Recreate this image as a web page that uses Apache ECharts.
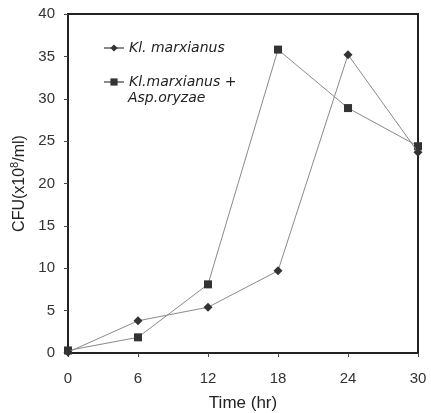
<!DOCTYPE html>
<html>
<head>
<meta charset="utf-8">
<script src="https://cdn.jsdelivr.net/npm/echarts@6/dist/echarts.min.js"></script>
<style>
html,body{margin:0;padding:0;background:#fff;}
#c{width:431px;height:413px;}
</style>
</head>
<body>
<div id="c"></div>
<script>
const timeHr = [0, 6, 12, 18, 24, 30];
const klMarxianus = [0.1, 3.8, 5.4, 9.7, 35.2, 23.7];
const klMarxianusAsp = [0.3, 1.85, 8.1, 35.8, 28.9, 24.4];
const seriesNames = ['Kl. marxianus', 'Kl.marxianus +\nAsp.oryzae'];
const yTicks = [0, 5, 10, 15, 20, 25, 30, 35, 40];
const xTicks = [0, 6, 12, 18, 24, 30];

const chart = echarts.init(document.getElementById('c'), null, {renderer: 'canvas'});
const font = 'Liberation Sans, Arial, sans-serif';
const legFont = 'DejaVu Sans, sans-serif';
function pairs(ys){ return timeHr.map((t,i)=>[t, ys[i]]); }

chart.setOption({
  animation: false,
  backgroundColor: '#fff',
  textStyle: {fontFamily: font},
  grid: {left: 68, right: 13, top: 14, bottom: 60, show: true, borderColor: '#222', borderWidth: 2, backgroundColor: 'transparent', containLabel: false, outerBoundsMode: 'none'},
  legend: {
    orient: 'vertical', left: 98, top: 36, itemGap: 20,
    itemWidth: 20, itemHeight: 9, selectedMode: false,
    data: seriesNames,
    formatter: n => n.split('\n')[0],
    textStyle: {fontFamily: legFont, fontStyle: 'italic', fontSize: 14, color: '#222', padding: [0,0,0,0]}
  },
  graphic: [{
    type: 'text', left: 128, top: 91,
    style: {text: seriesNames[1].split('\n')[1], fontFamily: legFont, fontStyle: 'italic', fontSize: 14, fill: '#222'}
  }],
  xAxis: {
    type: 'value', min: xTicks[0], max: xTicks[xTicks.length-1], interval: 6,
    name: 'Time (hr)', nameLocation: 'middle', nameGap: 42,
    nameTextStyle: {fontSize: 17, color: '#222', fontFamily: font},
    axisLine: {show: true, lineStyle: {color: '#222', width: 2}},
    axisTick: {show: true, inside: false, length: 4, lineStyle: {color: '#444'}},
    axisLabel: {fontSize: 15, color: '#333', margin: 18, fontFamily: font},
    splitLine: {show: false}
  },
  yAxis: {
    type: 'value', min: yTicks[0], max: yTicks[yTicks.length-1], interval: 5,
    name: '{a|CFU(x10}{s|8}{a|/ml)}', nameLocation: 'middle', nameGap: 38, nameRotate: 90,
    nameTextStyle: {
      color: '#222',
      rich: {
        a: {fontSize: 16, fontFamily: font, color: '#222'},
        s: {fontSize: 11, fontFamily: font, color: '#222', verticalAlign: 'top', padding: [0,0,8,0]}
      }
    },
    axisLine: {show: true, lineStyle: {color: '#222', width: 2}},
    axisTick: {show: true, inside: false, length: 4, lineStyle: {color: '#444'}},
    axisLabel: {fontSize: 15, color: '#333', margin: 13, fontFamily: font},
    splitLine: {show: false}
  },
  series: [
    {
      name: seriesNames[0], type: 'line', data: pairs(klMarxianus),
      symbol: 'diamond', symbolSize: 9, showAllSymbol: true,
      lineStyle: {color: '#8a8a8a', width: 1},
      itemStyle: {color: '#333', borderWidth: 0},
      z: 3
    },
    {
      name: seriesNames[1], type: 'line', data: pairs(klMarxianusAsp),
      symbol: 'rect', symbolSize: 8, showAllSymbol: true,
      lineStyle: {color: '#8a8a8a', width: 1},
      itemStyle: {color: '#333', borderWidth: 0},
      z: 2
    }
  ]
});
</script>
</body>
</html>
